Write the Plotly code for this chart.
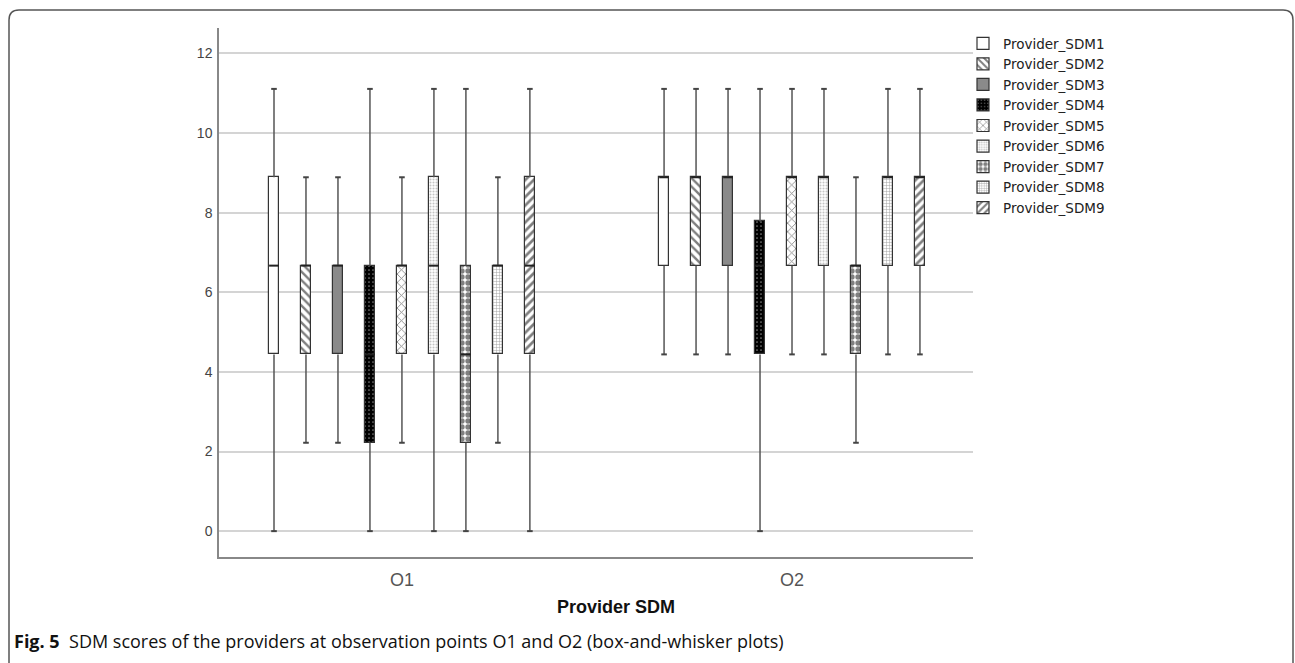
import plotly.graph_objects as go

# ---------------- data ----------------
series_names = ["Provider_SDM1", "Provider_SDM2", "Provider_SDM3", "Provider_SDM4", "Provider_SDM5",
                "Provider_SDM6", "Provider_SDM7", "Provider_SDM8", "Provider_SDM9"]
observation_labels = ["O1", "O2"]

o1_min = [0.00, 2.22, 2.22, 0.00, 2.22, 0.00, 0.00, 2.22, 0.00]
o1_q1 = [4.44, 4.44, 4.44, 2.22, 4.44, 4.44, 2.22, 4.44, 4.44]
o1_med = [6.67, 6.67, 6.67, 4.44, 6.67, 6.67, 4.44, 6.67, 6.67]
o1_q3 = [8.89, 6.67, 6.67, 6.67, 6.67, 8.89, 6.67, 6.67, 8.89]
o1_max = [11.11, 8.89, 8.89, 11.11, 8.89, 11.11, 11.11, 8.89, 11.11]

o2_min = [4.44, 4.44, 4.44, 0.00, 4.44, 4.44, 2.22, 4.44, 4.44]
o2_q1 = [6.67, 6.67, 6.67, 4.44, 6.67, 6.67, 4.44, 6.67, 6.67]
o2_med = [8.89, 8.89, 8.89, 6.67, 8.89, 8.89, 6.67, 8.89, 8.89]
o2_q3 = [8.89, 8.89, 8.89, 7.78, 8.89, 8.89, 6.67, 8.89, 8.89]
o2_max = [11.11, 11.11, 11.11, 11.11, 11.11, 11.11, 8.89, 11.11, 11.11]

y_ticks = [0, 2, 4, 6, 8, 10, 12]

# ---------------- styles ----------------
styles = [
    dict(color="white", pattern=dict(shape="")),
    dict(color="white", pattern=dict(shape="\\", fgcolor="black", bgcolor="white", size=6, solidity=0.4)),
    dict(color="#8a8a8a", pattern=dict(shape="")),
    dict(color="black", pattern=dict(shape=".", fgcolor="white", bgcolor="black", size=4, solidity=0.15)),
    dict(color="white", pattern=dict(shape="x", fgcolor="black", bgcolor="white", size=6, solidity=0.25)),
    dict(color="white", pattern=dict(shape=".", fgcolor="#8a8a8a", bgcolor="white", size=3, solidity=0.4)),
    dict(color="white", pattern=dict(shape=".", fgcolor="black", bgcolor="white", size=6, solidity=0.62)),
    dict(color="white", pattern=dict(shape="+", fgcolor="#444", bgcolor="white", size=3, solidity=0.3)),
    dict(color="white", pattern=dict(shape="/", fgcolor="black", bgcolor="white", size=6, solidity=0.45)),
]

# ---------------- geometry ----------------
L, R, T, B = 219, 973, 28, 557
W, H = 1295, 663
spacing = 0.082
box_w = 0.025
x_range = [-0.469, 1.464]
y_range = [-0.65, 12.64]


def px_x(p):
    return (p - L) / (R - L)


def px_y(p):
    return (B - p) / (B - T)


fig = go.Figure()
groups = [(o1_min, o1_q1, o1_med, o1_q3, o1_max), (o2_min, o2_q1, o2_med, o2_q3, o2_max)]

for k, name in enumerate(series_names):
    xs = [g + (k - 4) * spacing for g in range(len(observation_labels))]
    q1s = [grp[1][k] for grp in groups]
    q3s = [grp[3][k] for grp in groups]
    wx, wy = [], []
    cx, cy = [], []
    mx, my = [], []
    for gi, grp in enumerate(groups):
        x = xs[gi]
        wx += [x, x, None, x, x, None]
        wy += [grp[0][k], grp[1][k], None, grp[3][k], grp[4][k], None]
        cx += [x, x]
        cy += [grp[0][k], grp[4][k]]
        mx += [x - box_w / 2, x + box_w / 2, None]
        my += [grp[2][k], grp[2][k], None]
    fig.add_trace(go.Scatter(x=wx, y=wy, mode="lines", line=dict(color="#555555", width=1.5),
                             showlegend=False, hoverinfo="skip", legendgroup=name))
    fig.add_trace(go.Scatter(x=cx, y=cy, mode="markers",
                             marker=dict(symbol="line-ew", size=4, line=dict(color="#444444", width=2)),
                             showlegend=False, hoverinfo="skip", legendgroup=name))
    st = styles[k]
    fig.add_trace(go.Bar(
        x=xs, y=[b - a for a, b in zip(q1s, q3s)], base=q1s, width=box_w, name=name,
        legendgroup=name,
        marker=dict(color=st["color"], pattern=st["pattern"], line=dict(color="#333333", width=1.2)),
    ))
    fig.add_trace(go.Scatter(x=mx, y=my, mode="lines", line=dict(color="#222222", width=2),
                             showlegend=False, hoverinfo="skip", legendgroup=name))

# frame path (rounded top corners)
r = 10
fx0, fx1, fy0, fy1 = 9, 1293, 10, 700
path = (f"M {px_x(fx0)},{px_y(fy1)} L {px_x(fx0)},{px_y(fy0 + r)} "
        f"Q {px_x(fx0)},{px_y(fy0)} {px_x(fx0 + r)},{px_y(fy0)} "
        f"L {px_x(fx1 - r)},{px_y(fy0)} Q {px_x(fx1)},{px_y(fy0)} {px_x(fx1)},{px_y(fy0 + r)} "
        f"L {px_x(fx1)},{px_y(fy1)}")
fig.add_shape(type="path", path=path, xref="paper", yref="paper",
              line=dict(color="#555555", width=1.5), layer="below")

fig.add_annotation(text="<b>Provider SDM</b>", xref="paper", yref="paper", x=px_x(616), y=px_y(607),
                   showarrow=False, xanchor="center", yanchor="middle",
                   font=dict(family="Liberation Sans, Arial, sans-serif", size=18, color="#111111"))
fig.add_annotation(text="<b>Fig. 5</b>  SDM scores of the providers at observation points O1 and O2 (box-and-whisker plots)",
                   xref="paper", yref="paper", x=px_x(12), y=px_y(641),
                   showarrow=False, xanchor="left", yanchor="middle",
                   font=dict(family="Open Sans, Noto Sans, sans-serif", size=18, color="#111111"))

fig.update_layout(
    width=W, height=H,
    margin=dict(l=L, r=W - R, t=T, b=H - B),
    paper_bgcolor="white", plot_bgcolor="white",
    barmode="overlay",
    bargap=0,
    showlegend=True,
    legend=dict(x=px_x(963), y=px_y(28), xanchor="left", yanchor="top",
                font=dict(family="DejaVu Sans, sans-serif", size=13.5, color="#222222"),
                bgcolor="rgba(0,0,0,0)", tracegroupgap=0, itemwidth=30),
    xaxis=dict(range=x_range, tickvals=[0, 1], ticktext=observation_labels, showgrid=False,
               zeroline=False, showline=True, linecolor="#888888", linewidth=1.5,
               ticks="outside", ticklen=6, tickcolor="rgba(0,0,0,0)",
               tickfont=dict(family="Liberation Sans, Arial, sans-serif", size=18, color="#555555")),
    yaxis=dict(range=y_range, tickvals=y_ticks, showgrid=True, gridcolor="#d4d4d4", gridwidth=1.5,
               zeroline=False, showline=True, linecolor="#888888", linewidth=1.5,
               ticks="outside", ticklen=2, tickcolor="rgba(0,0,0,0)",
               tickfont=dict(family="Liberation Sans, Arial, sans-serif", size=14, color="#444444")),
)

fig.write_html("out.html", config={"displayModeBar": False},
               post_script="document.body.style.margin='0';")
